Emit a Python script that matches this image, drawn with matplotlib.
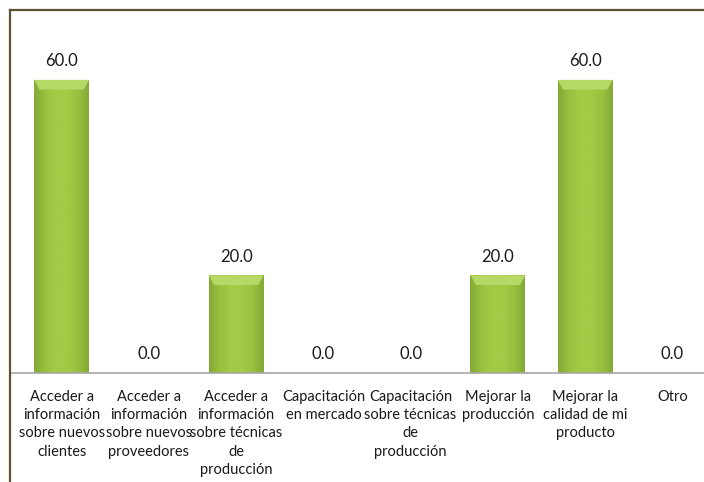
import numpy as np
import matplotlib
matplotlib.use('Agg')
import matplotlib.pyplot as plt
from matplotlib.colors import LinearSegmentedColormap
from matplotlib.lines import Line2D

plt.rcParams['font.family'] = ['Lato', 'DejaVu Sans']

categories = [
    'Acceder a\ninformación\nsobre nuevos\nclientes',
    'Acceder a\ninformación\nsobre nuevos\nproveedores',
    'Acceder a\ninformación\nsobre técnicas\nde\nproducción',
    'Capacitación\nen mercado',
    'Capacitación\nsobre técnicas\nde\nproducción',
    'Mejorar la\nproducción',
    'Mejorar la\ncalidad de mi\nproducto',
    'Otro',
]
values = [60.0, 0.0, 20.0, 0.0, 0.0, 20.0, 60.0, 0.0]

W, H = 704, 482
fig = plt.figure(figsize=(W / 100, H / 100), dpi=100)
# plot area runs a bit past the right edge of the canvas
ax = fig.add_axes([18 / W, (H - 373) / H, 698 / W, 363 / H])

x = np.arange(len(categories))
bar_w = 0.63
ax.set_xlim(-0.5, len(categories) - 0.5)
ax.set_ylim(0, 74.3)

# horizontal gradient: slightly darker edges, bright middle
side = LinearSegmentedColormap.from_list(
    'side', ['#84aa36', '#98c23e', '#a2cb46', '#a2cb46', '#98c23e', '#84aa36'])
grad = np.linspace(0, 1, 64).reshape(1, -1)

bars = ax.bar(x, values, width=bar_w, color='#9cc640', edgecolor='none', zorder=2)
for b, v in zip(bars, values):
    if v <= 0:
        continue
    x0, w = b.get_x(), b.get_width()
    im = ax.imshow(grad, cmap=side, aspect='auto', extent=[x0, x0 + w, 0, v],
                   interpolation='bicubic', zorder=3)
    im.set_clip_path(b)
    # light bevel along the top
    ax.fill([x0, x0 + w, x0 + w * 0.9, x0 + w * 0.1], [v, v, v - 2.0, v - 2.0],
            color='#b6d866', zorder=4, lw=0)
    ax.text(x0 + w / 2, v + 2.2, f'{v:.1f}', ha='center', va='bottom',
            fontsize=12, color='#1a1a1a')
for xi, v in zip(x, values):
    if v == 0:
        ax.text(xi, 2.2, f'{v:.1f}', ha='center', va='bottom', fontsize=12, color='#1a1a1a')

ax.set_xticks(x)
ax.set_xticklabels(categories, fontsize=10.5, linespacing=1.4, color='#1a1a1a')
ax.tick_params(axis='x', length=0, pad=12)
ax.set_yticks([])
for s in ax.spines.values():
    s.set_visible(False)

# baseline and outer frame
fig.add_artist(Line2D([10 / W, 1], [(H - 373) / H] * 2, color='#a6a6a6', lw=1.2))
fig.add_artist(Line2D([9.5 / W, 9.5 / W], [0, 1 - 9.5 / H], color='#5a5233', lw=1.6))
fig.add_artist(Line2D([9.5 / W, 1], [1 - 9.5 / H] * 2, color='#5a5233', lw=1.6))

fig.savefig('out.png', dpi=100)
